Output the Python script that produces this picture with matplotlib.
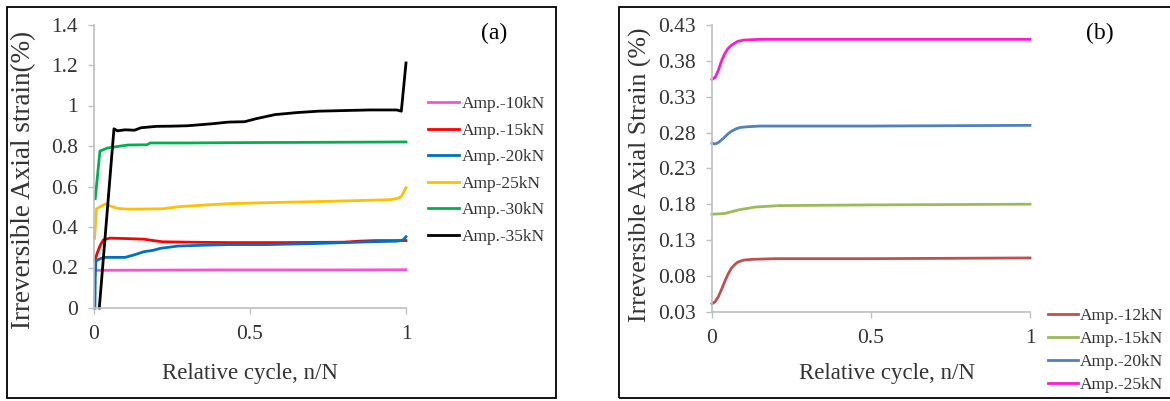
import matplotlib
matplotlib.use("Agg")
import matplotlib.pyplot as plt
from matplotlib.patches import Rectangle

plt.rcParams['font.family'] = ['Liberation Serif', 'DejaVu Serif']

# ---- panel (a): irreversible axial strain vs relative cycle ----
x10 = [0.01, 0.2, 0.4, 0.6, 0.8, 1.0]
y10 = [0.186, 0.187, 0.188, 0.188, 0.188, 0.189]

x15 = [0.003, 0.01, 0.02, 0.03, 0.05, 0.1, 0.16, 0.19, 0.22, 0.3, 0.43, 0.6, 0.8, 0.85, 0.9, 1.0]
y15 = [0.235, 0.27, 0.31, 0.336, 0.345, 0.343, 0.340, 0.333, 0.327, 0.325, 0.323, 0.323, 0.325, 0.33, 0.333, 0.333]

x20 = [0.003, 0.004, 0.006, 0.015, 0.032, 0.1, 0.13, 0.16, 0.19, 0.214, 0.27, 0.35, 0.43,
       0.55, 0.7, 0.885, 0.97, 0.99, 1.0]
y20 = [0.0, 0.15, 0.232, 0.24, 0.25, 0.25, 0.263, 0.278, 0.285, 0.295, 0.306, 0.31, 0.313,
       0.313, 0.318, 0.327, 0.33, 0.335, 0.352]

x25 = [0.002, 0.008, 0.02, 0.037, 0.05, 0.075, 0.11, 0.22, 0.27, 0.35, 0.43, 0.55, 0.7,
       0.885, 0.95, 0.97, 0.985, 1.0]
y25 = [0.344, 0.49, 0.5, 0.514, 0.505, 0.492, 0.488, 0.49, 0.5, 0.508, 0.515, 0.52, 0.525,
       0.532, 0.535, 0.54, 0.55, 0.594]

x30 = [0.004, 0.019, 0.043, 0.086, 0.11, 0.17, 0.18, 0.3, 0.5, 0.7, 1.0]
y30 = [0.54, 0.775, 0.79, 0.80, 0.805, 0.806, 0.815, 0.815, 0.817, 0.818, 0.82]

x35 = [0.017, 0.064, 0.075, 0.1, 0.13, 0.15, 0.2, 0.25, 0.3, 0.38, 0.43, 0.483, 0.52, 0.58,
       0.65, 0.72, 0.8, 0.885, 0.97, 0.985, 1.0]
y35 = [0.0, 0.885, 0.875, 0.88, 0.878, 0.89, 0.897, 0.898, 0.9, 0.91, 0.918, 0.92, 0.935, 0.955,
       0.965, 0.972, 0.975, 0.978, 0.978, 0.972, 1.21]

labels_a = ['Amp.-10kN', 'Amp.-15kN', 'Amp.-20kN', 'Amp-25kN', 'Amp.-30kN', 'Amp.-35kN']
colors_a = ['#f752d6', '#ff0000', '#0070c0', '#ffc000', '#00b050', '#000000']
yticks_a = [0, 0.2, 0.4, 0.6, 0.8, 1.0, 1.2, 1.4]
yticklabels_a = ['0', '0.2', '0.4', '0.6', '0.8', '1', '1.2', '1.4']

# ---- panel (b) ----
x12b = [0.0, 0.01, 0.02, 0.03, 0.04, 0.05, 0.06, 0.07, 0.08, 0.1, 0.125, 0.2, 0.5, 1.0]
y12b = [0.041, 0.044, 0.051, 0.061, 0.072, 0.082, 0.09, 0.095, 0.099, 0.102, 0.103, 0.104, 0.104, 0.105]

x15b = [0.0, 0.04, 0.083, 0.136, 0.21, 0.5, 1.0]
y15b = [0.166, 0.167, 0.172, 0.176, 0.178, 0.179, 0.18]

x20b = [0.0, 0.01, 0.02, 0.036, 0.05, 0.062, 0.075, 0.088, 0.11, 0.15, 0.5, 1.0]
y20b = [0.265, 0.264, 0.266, 0.272, 0.278, 0.282, 0.285, 0.287, 0.288, 0.289, 0.289, 0.29]

x25b = [0.0, 0.01, 0.02, 0.03, 0.04, 0.05, 0.062, 0.08, 0.1, 0.15, 0.5, 1.0]
y25b = [0.354, 0.357, 0.367, 0.38, 0.39, 0.397, 0.402, 0.407, 0.409, 0.41, 0.41, 0.41]

labels_b = ['Amp.-12kN', 'Amp.-15kN', 'Amp.-20kN', 'Amp.-25kN']
colors_b = ['#c0504d', '#9bbb59', '#4f81bd', '#ff1acd']
yticks_b = [0.03, 0.08, 0.13, 0.18, 0.23, 0.28, 0.33, 0.38, 0.43]
yticklabels_b = ['0.03', '0.08', '0.13', '0.18', '0.23', '0.28', '0.33', '0.38', '0.43']

xticks = [0, 0.5, 1]
xticklabels = ['0', '0.5', '1']

W, H = 1170, 401
fig = plt.figure(figsize=(W / 100, H / 100), dpi=100)
txt = '#333333'
axis_grey = '#bfbfbf'


def px_axes(left, right, top, bottom):
    return fig.add_axes([left / W, 1 - bottom / H, (right - left) / W, (bottom - top) / H])


def style(ax, yticks, yticklabels):
    ax.set_xlim(0, 1)
    ax.set_xticks(xticks)
    ax.set_xticklabels(xticklabels)
    ax.set_yticks(yticks)
    ax.set_yticklabels(yticklabels)
    for s in ['top', 'right']:
        ax.spines[s].set_visible(False)
    for s in ['left', 'bottom']:
        ax.spines[s].set_color(axis_grey)
        ax.spines[s].set_linewidth(1.2)
    ax.tick_params(axis='both', direction='out', length=4.5, width=1.0, color=axis_grey,
                   labelsize=15.5, labelcolor=txt)
    ax.tick_params(axis='y', pad=7)
    ax.tick_params(axis='x', pad=8)


# panel frames
fig.add_artist(Rectangle((7 / W, 1 - 398 / H), 549 / W, 391 / H, transform=fig.transFigure,
                         fill=False, edgecolor='black', linewidth=1.3))
fig.add_artist(Rectangle((619 / W, 1 - 398 / H), 560 / W, 391 / H, transform=fig.transFigure,
                         fill=False, edgecolor='black', linewidth=1.3))

# (a)
ax1 = px_axes(94, 406, 24.5, 308)
series_a = [(x10, y10), (x15, y15), (x20, y20), (x25, y25), (x30, y30), (x35, y35)]
for (xs, ys), c, lab in zip(series_a, colors_a, labels_a):
    ax1.plot(xs, ys, color=c, lw=2.0, label=lab, clip_on=False, solid_joinstyle='round')
ax1.set_ylim(0, 1.4)
style(ax1, yticks_a, yticklabels_a)
ax1.set_xlabel('Relative cycle, n/N', fontsize=16.5, color=txt)
ax1.xaxis.set_label_coords(0.5, -0.23)
ax1.xaxis.label.set_va('center')
ax1.set_ylabel('Irreversible Axial strain(%)', fontsize=19.5, color=txt)
ax1.yaxis.set_label_coords(-0.225, 0.45)
ax1.yaxis.label.set_va('center')
ax1.legend(loc='upper left', bbox_to_anchor=(428 / W, 1 - 96 / H), bbox_transform=fig.transFigure,
           frameon=False, borderpad=0, borderaxespad=0, handlelength=1.8, handletextpad=0.15,
           labelspacing=0.6, fontsize=12.5, labelcolor=txt)
fig.text(494 / W, 1 - 33 / H, '(a)', fontsize=17, color='black', ha='center', va='center')

# (b)
ax2 = px_axes(712, 1030, 25, 311.7)
series_b = [(x12b, y12b), (x15b, y15b), (x20b, y20b), (x25b, y25b)]
for (xs, ys), c, lab in zip(series_b, colors_b, labels_b):
    ax2.plot(xs, ys, color=c, lw=2.0, label=lab, clip_on=False, solid_joinstyle='round')
ax2.set_ylim(0.03, 0.43)
style(ax2, yticks_b, yticklabels_b)
ax2.set_xlabel('Relative cycle, n/N', fontsize=16.5, color=txt)
ax2.xaxis.set_label_coords(0.55, -0.215)
ax2.xaxis.label.set_va('center')
ax2.set_ylabel('Irreversible Axial Strain (%)', fontsize=18.5, color=txt)
ax2.yaxis.set_label_coords(-0.226, 0.477)
ax2.yaxis.label.set_va('center')
ax2.legend(loc='upper left', bbox_to_anchor=(1048 / W, 1 - 308 / H), bbox_transform=fig.transFigure,
           frameon=False, borderpad=0, borderaxespad=0, handlelength=1.7, handletextpad=0.15,
           labelspacing=0.385, fontsize=12.5, labelcolor=txt)
fig.text(1100 / W, 1 - 33 / H, '(b)', fontsize=17, color='black', ha='center', va='center')

fig.savefig('out.png', dpi=100)
